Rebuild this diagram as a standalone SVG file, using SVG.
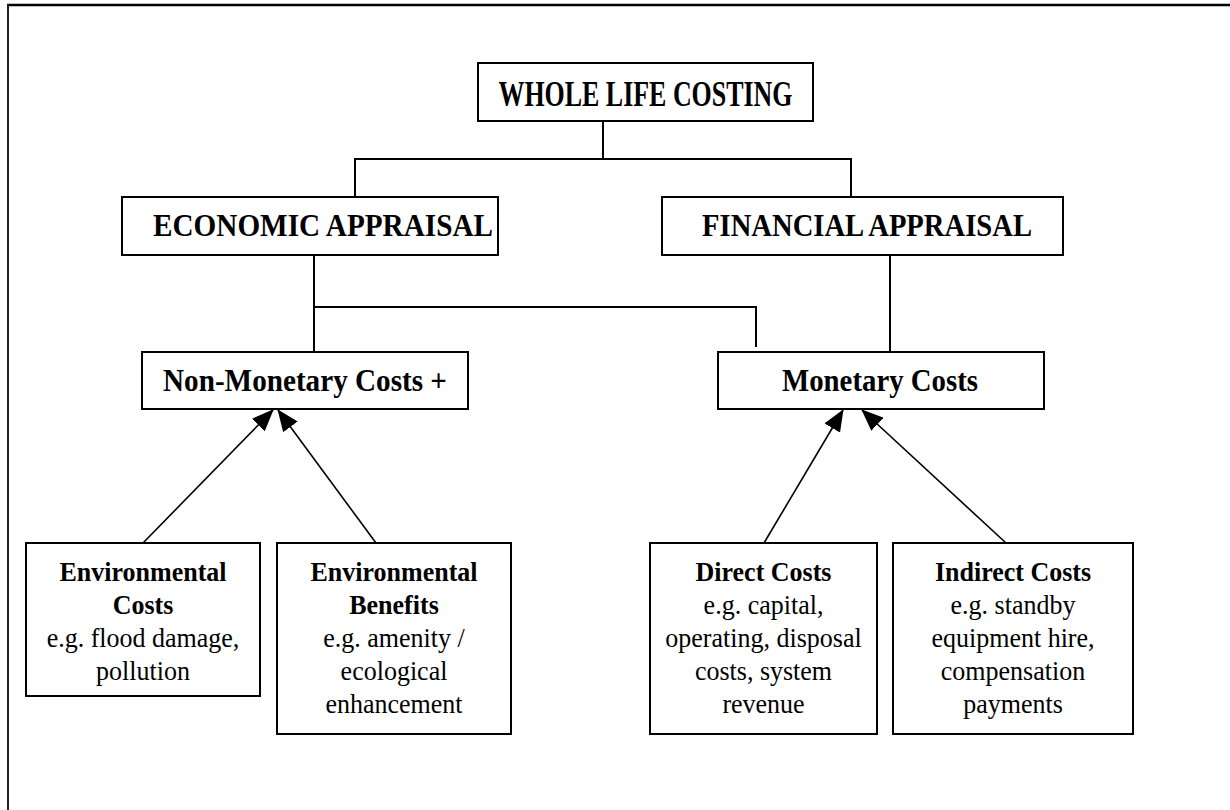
<svg xmlns="http://www.w3.org/2000/svg" width="1230" height="810" viewBox="0 0 1230 810">
<style>
.box{fill:#fff;stroke:#000;stroke-width:2}
.hd{font-family:"Liberation Serif","Times New Roman",serif;font-weight:bold;font-size:30px;text-anchor:middle;fill:#000}
.ttl{font-family:"Liberation Serif","Times New Roman",serif;font-weight:bold;font-size:36px;text-anchor:middle;fill:#000}
.bt{font-family:"Liberation Serif","Times New Roman",serif;font-weight:bold;font-size:26px;text-anchor:middle;fill:#000}
.rt{font-family:"Liberation Serif","Times New Roman",serif;font-size:26px;text-anchor:middle;fill:#000}
.ln{fill:none;stroke:#000;stroke-width:2}
.ar{fill:none;stroke:#000;stroke-width:1.6;marker-end:url(#ah)}
</style>
<defs>
<marker id="ah" markerUnits="userSpaceOnUse" markerWidth="24" markerHeight="18" refX="21" refY="9" orient="auto">
<path d="M0,0 L22,9 L0,18 Z" fill="#000"/>
</marker>
</defs>
<rect width="1230" height="810" fill="#fff"/>
<g id="frame">
<line x1="7" y1="5" x2="1230" y2="5" stroke="#000" stroke-width="2.5"/>
<line x1="8" y1="4" x2="8" y2="810" stroke="#222" stroke-width="2"/>
</g>
<g id="connectors">
<polyline class="ln" points="603,121 603,159"/>
<polyline class="ln" points="355,198 355,159 851,159 851,198"/>
<polyline class="ln" points="314,255 314,352"/>
<polyline class="ln" points="314,307 756,307 756,347"/>
<polyline class="ln" points="890,255 890,352"/>
<line class="ar" x1="143" y1="543" x2="273" y2="410"/>
<line class="ar" x1="376" y1="543" x2="278" y2="410"/>
<line class="ar" x1="764" y1="543" x2="843" y2="410"/>
<line class="ar" x1="1006" y1="543" x2="862" y2="410"/>
</g>
<g id="whole-life-costing">
<rect class="box" x="478" y="63" width="335" height="58"/>
<text class="ttl" x="645.5" y="106" textLength="294" lengthAdjust="spacingAndGlyphs">WHOLE LIFE COSTING</text>
</g>
<g id="economic-appraisal">
<rect class="box" x="122" y="197" width="376" height="58"/>
<text class="hd" transform="translate(323,236) scale(1,1.07)" textLength="340" lengthAdjust="spacingAndGlyphs">ECONOMIC APPRAISAL</text>
</g>
<g id="financial-appraisal">
<rect class="box" x="662" y="197" width="401" height="58"/>
<text class="hd" transform="translate(867,236) scale(1,1.07)" textLength="330" lengthAdjust="spacingAndGlyphs">FINANCIAL APPRAISAL</text>
</g>
<g id="non-monetary-costs">
<rect class="box" x="142" y="352" width="326" height="57"/>
<text class="hd" transform="translate(305,391) scale(1,1.07)" textLength="284" lengthAdjust="spacingAndGlyphs">Non-Monetary Costs +</text>
</g>
<g id="monetary-costs">
<rect class="box" x="718" y="352" width="326" height="57"/>
<text class="hd" transform="translate(880,391) scale(1,1.07)" textLength="196" lengthAdjust="spacingAndGlyphs">Monetary Costs</text>
</g>
<g id="environmental-costs">
<rect class="box" x="26" y="543" width="234" height="153"/>
<text class="bt" transform="translate(143,581) scale(1,1.08)">Environmental</text>
<text class="bt" transform="translate(143,614) scale(1,1.08)">Costs</text>
<text class="rt" transform="translate(143,647) scale(1,1.08)">e.g. flood damage,</text>
<text class="rt" transform="translate(143,680) scale(1,1.08)">pollution</text>
</g>
<g id="environmental-benefits">
<rect class="box" x="277" y="543" width="234" height="191"/>
<text class="bt" transform="translate(394,581) scale(1,1.08)">Environmental</text>
<text class="bt" transform="translate(394,614) scale(1,1.08)">Benefits</text>
<text class="rt" transform="translate(394,647) scale(1,1.08)">e.g. amenity /</text>
<text class="rt" transform="translate(394,680) scale(1,1.08)">ecological</text>
<text class="rt" transform="translate(394,713) scale(1,1.08)">enhancement</text>
</g>
<g id="direct-costs">
<rect class="box" x="650" y="543" width="227" height="191"/>
<text class="bt" transform="translate(763.5,581) scale(1,1.08)">Direct Costs</text>
<text class="rt" transform="translate(763.5,614) scale(1,1.08)">e.g. capital,</text>
<text class="rt" transform="translate(763.5,647) scale(1,1.08)">operating, disposal</text>
<text class="rt" transform="translate(763.5,680) scale(1,1.08)">costs, system</text>
<text class="rt" transform="translate(763.5,713) scale(1,1.08)">revenue</text>
</g>
<g id="indirect-costs">
<rect class="box" x="893" y="543" width="240" height="191"/>
<text class="bt" transform="translate(1013,581) scale(1,1.08)">Indirect Costs</text>
<text class="rt" transform="translate(1013,614) scale(1,1.08)">e.g. standby</text>
<text class="rt" transform="translate(1013,647) scale(1,1.08)">equipment hire,</text>
<text class="rt" transform="translate(1013,680) scale(1,1.08)">compensation</text>
<text class="rt" transform="translate(1013,713) scale(1,1.08)">payments</text>
</g>
</svg>
